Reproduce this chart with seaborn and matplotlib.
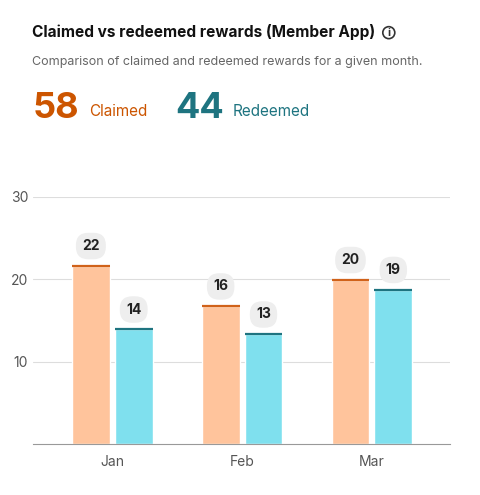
import matplotlib
matplotlib.use("Agg")
import matplotlib.pyplot as plt
import seaborn as sns
import pandas as pd
from matplotlib.patches import Circle

months = ["Jan", "Feb", "Mar"]
claimed = [21.6, 16.7, 19.9]
redeemed = [13.9, 13.3, 18.7]
claimed_labels = ["22", "16", "20"]
redeemed_labels = ["14", "13", "19"]
total_claimed = "58"
total_redeemed = "44"

sns.set_style("white")
plt.rcParams['font.family'] = ['Inter', 'DejaVu Sans']

df = pd.DataFrame({"month": months * 2,
                   "value": claimed + redeemed,
                   "kind": ["Claimed"] * 3 + ["Redeemed"] * 3})

fig = plt.figure(figsize=(4.8, 4.95), dpi=100)
ax = fig.add_axes([0.069, 0.103, 0.868, 0.5])
sns.barplot(data=df, x="month", y="value", hue="kind",
            palette={"Claimed": "#FFC49C", "Redeemed": "#7FE0EE"},
            width=0.66, gap=0.12, legend=False, ax=ax, saturation=1)
edge = {"Claimed": "#D0621A", "Redeemed": "#1E7480"}
labs = {"Claimed": claimed_labels, "Redeemed": redeemed_labels}
for cont, kind in zip(ax.containers, ["Claimed", "Redeemed"]):
    for bar, lab in zip(cont, labs[kind]):
        x0, w, h = bar.get_x(), bar.get_width(), bar.get_height()
        ax.plot([x0, x0 + w], [h, h], color=edge[kind], lw=1.6, solid_capstyle="butt")
        ax.text(x0 + w / 2, h + 2.4, lab, ha="center", va="center", fontsize=10,
                fontweight="bold", color="#222",
                bbox=dict(boxstyle="round,pad=0.45,rounding_size=0.9", fc="#EEEEEE", ec="none"))
ax.set_ylim(0, 30)
ax.set_xlim(-0.61, 2.6)
ax.set_yticks([10, 20, 30])
ax.yaxis.grid(True, color="#DDDDDD", lw=0.8)
ax.set_axisbelow(True)
ax.tick_params(axis="both", length=0, labelsize=10, labelcolor="#555")
ax.tick_params(axis="x", pad=8)
ax.set_xlabel(""); ax.set_ylabel("")
for s in ["top", "right", "left"]:
    ax.spines[s].set_visible(False)
ax.spines["bottom"].set_color("#999")

fig.text(0.067, 0.925, "Claimed vs redeemed rewards (Member App)", fontsize=11.1,
         fontweight="bold", color="#111")
fig.patches.append(Circle((0.810 * 480, 0.934 * 495), 6, transform=None, fill=False,
                          ec="#333", lw=1.2))
fig.text(0.810, 0.934, "i", fontsize=8, fontweight="bold", color="#333",
         ha="center", va="center")
fig.text(0.067, 0.868, "Comparison of claimed and redeemed rewards for a given month.",
         fontsize=9, color="#666")
fig.text(0.067, 0.762, total_claimed, fontsize=26, fontweight="bold", color="#CC5500")
fig.text(0.185, 0.765, "Claimed", fontsize=11, color="#CC5500")
fig.text(0.365, 0.762, total_redeemed, fontsize=26, fontweight="bold", color="#1E7480")
fig.text(0.485, 0.765, "Redeemed", fontsize=11, color="#1E7480")
fig.savefig("out.png", dpi=100)
